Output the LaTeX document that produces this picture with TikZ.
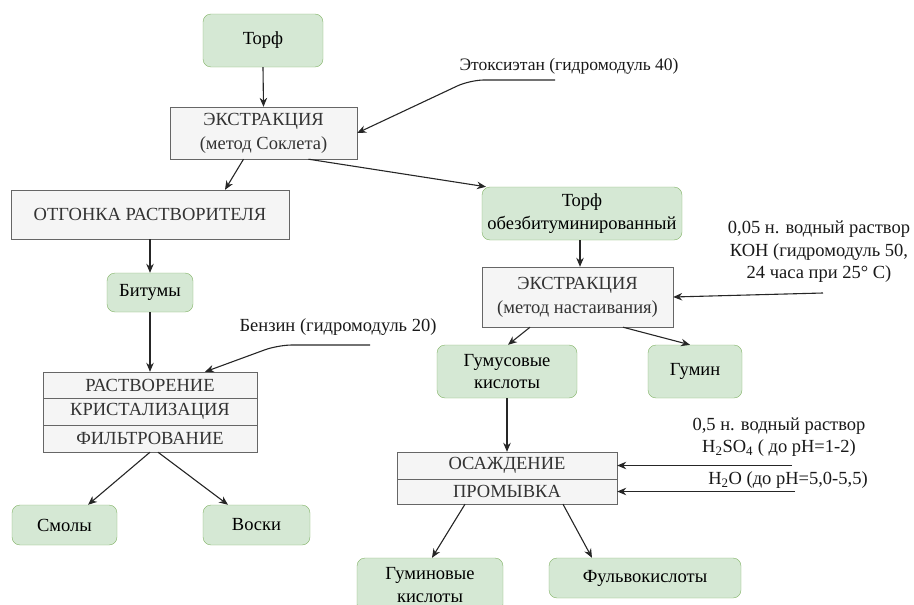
\documentclass[tikz,border=0pt]{standalone}
\usepackage{fontspec}
\setmainfont{Liberation Serif}
\usetikzlibrary{arrows.meta}
\definecolor{greenfill}{HTML}{D5E8D4}
\definecolor{greenline}{HTML}{82B366}
\definecolor{grayfill}{HTML}{F5F5F5}
\definecolor{grayline}{HTML}{666666}
\definecolor{graytext}{HTML}{333333}

\begin{document}
\begin{tikzpicture}[x=1pt,y=-1pt]%
	\tikzstyle{product}=[rectangle, rounded corners=8pt, draw=greenline, fill=greenfill, align=center, inner sep=2pt, font=\fontsize{18.5}{22.5}\selectfont];
	\tikzstyle{stage}=[rectangle, draw=grayline, fill=grayfill, text=graytext, align=center, inner sep=2pt, font=\fontsize{18.5}{24}\selectfont];
	\tikzstyle{reagent}=[align=center, inner sep=0pt, text=black!90, font=\fontsize{18.5}{22.5}\selectfont];
	\tikzstyle{flow}=[draw=black!85, line width=1.1pt, -{Stealth[length=9pt,width=7.5pt]}];
	\useasboundingbox (0,0) rectangle (914,605);
	% left branch
	\node[minimum width=120pt, minimum height=53pt] at (263,40.5) [product] (torf) {Торф};
	\node[minimum width=187pt, minimum height=52pt] at (263.5,133) [stage] (ekstr1) {ЭКСТРАКЦИЯ\\(метод Соклета)};
	\node[minimum width=278pt, minimum height=49pt] at (150,214.5) [stage] (otgon) {ОТГОНКА РАСТВОРИТЕЛЯ};
	\node[minimum width=86pt, minimum height=39pt] at (150,292.5) [product] (bitum) {Битумы};
	\node[minimum width=214pt, minimum height=26pt] at (150,385) [stage] (rast) {РАСТВОРЕНИЕ};
	\node[minimum width=214pt, minimum height=27pt] at (150,411.5) [stage] (krist) {КРИСТАЛИЗАЦИЯ};
	\node[minimum width=214pt, minimum height=27pt] at (150,438.5) [stage] (filtr) {ФИЛЬТРОВАНИЕ};
	\node[minimum width=105pt, minimum height=40pt] at (64.5,525) [product] (smoly) {Смолы};
	\node[minimum width=107pt, minimum height=40pt] at (256.5,525) [product] (voski) {Воски};
	% right branch
	\node[minimum width=200pt, minimum height=53pt] at (582,213.5) [product] (torfob) {Торф\\обезбитуминированный};
	\node[minimum width=191pt, minimum height=60pt] at (577.5,297) [stage] (ekstr2) {ЭКСТРАКЦИЯ\\(метод настаивания)};
	\node[minimum width=140pt, minimum height=53pt] at (507,371.5) [product] (gumus) {Гумусовые\\кислоты};
	\node[minimum width=94pt, minimum height=53pt] at (695,371.5) [product] (gumin) {Гумин};
	\node[minimum width=220pt, minimum height=27pt] at (507,465.5) [stage] (osazh) {ОСАЖДЕНИЕ};
	\node[minimum width=220pt, minimum height=25pt] at (507,491.5) [stage] (promyv) {ПРОМЫВКА};
	\node[minimum width=146pt, minimum height=54pt] at (430,585) [product] (guminov) {Гуминовые\\кислоты};
	\node[minimum width=192pt, minimum height=40pt] at (645,578) [product] (fulvo) {Фульвокислоты};
	% reagents
	\node at (569,66) [reagent, font=\fontsize{17.5}{22}\selectfont] (etoks) {Этоксиэтан (гидромодуль 40)};
	\node at (338,327) [reagent] (benzin) {Бензин (гидромодуль 20)};
	\node at (819,252) [reagent] (koh) {0,05 н. водный раствор\\КОН (гидромодуль 50,\\24 часа при 25° С)};
	\node at (779,437) [reagent] (sulf) {0,5 н. водный раствор\\H\textsubscript{2}SO\textsubscript{4} ( до pH=1-2)};
	\node at (788,480) [reagent] (voda) {H\textsubscript{2}O (до pH=5,0-5,5)};
	\coordinate (etoksend) at (555,80);
	\coordinate (benzinend) at (370,345);
	\coordinate (kohend) at (823,293);
	\coordinate (sulfend) at (792,465.5);
	\coordinate (vodaend) at (795,491.5);
	% connectors
	\draw[flow] (torf.south) -- (ekstr1.north);
	\draw[flow] ([xshift=-20pt]ekstr1.south) -- ([xshift=75pt]otgon.north);
	\draw[flow] ([xshift=45pt]ekstr1.south) -- ([xshift=-96pt]torfob.north);
	\draw[flow] (otgon.south) -- (bitum.north);
	\draw[flow] (bitum.south) -- (rast.north);
	\draw[flow] ([xshift=0pt]filtr.south) -- ([xshift=23.5pt]smoly.north);
	\draw[flow] ([xshift=8pt]filtr.south) -- ([xshift=-28.5pt]voski.north);
	\draw[flow] ([xshift=-2pt]torfob.south) -- ([xshift=2.5pt]ekstr2.north);
	\draw[flow] ([xshift=-47.5pt]ekstr2.south) -- ([xshift=1pt]gumus.north);
	\draw[flow] ([xshift=45.5pt]ekstr2.south) -- ([xshift=-5pt]gumin.north);
	\draw[flow] (gumus.south) -- (osazh.north);
	\draw[flow] ([xshift=-42pt]promyv.south) -- ([xshift=2pt]guminov.north);
	\draw[flow] ([xshift=56pt]promyv.south) -- ([xshift=-53pt]fulvo.north);
	\draw[flow, rounded corners=14pt] (etoksend) -- ++(-85,0) -- (ekstr1.east);
	\draw[flow, rounded corners=14pt] (benzinend) -- ++(-92,0) -- ([xshift=55pt]rast.north);
	\draw[flow] (kohend) -- (ekstr2.east);
	\draw[flow] (sulfend) -- (osazh.east);
	\draw[flow] (vodaend) -- (promyv.east);
\end{tikzpicture}
\end{document}
